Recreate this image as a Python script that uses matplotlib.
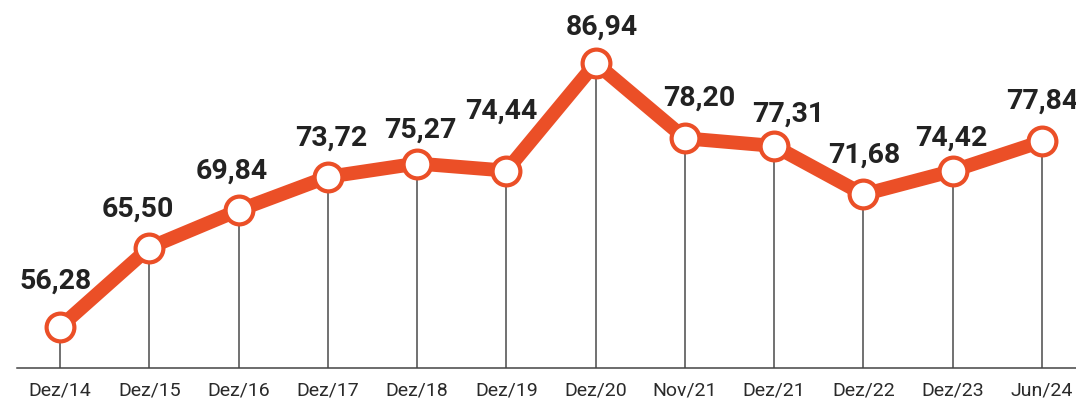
import matplotlib.pyplot as plt

# Dados do gráfico
periodos = ['Dez/14', 'Dez/15', 'Dez/16', 'Dez/17', 'Dez/18', 'Dez/19',
            'Dez/20', 'Nov/21', 'Dez/21', 'Dez/22', 'Dez/23', 'Jun/24']
valores = [56.28, 65.50, 69.84, 73.72, 75.27, 74.44,
           86.94, 78.20, 77.31, 71.68, 74.42, 77.84]

# Deslocamento dos rótulos (em pixels) em relação ao ponto
desloc_x = [-4, -11, -7, 3, 3, -5, 6, 14, 14, 1, -1, 0]
desloc_y = [-43, -35, -36, -36, -30, -56, -33, -37, -29, -36, -30, -37]

cor_linha = '#EB4F27'
cor_texto = '#222222'

fig = plt.figure(figsize=(10.76, 4.04), dpi=100)
ax = fig.add_axes([0, 36 / 404, 1, 368 / 404])

x = list(range(len(valores)))
y_base = 51.52

ax.vlines(x, y_base, valores, color='#4a4a4a', linewidth=1.1, zorder=1)
ax.plot(x, valores, '-o', color=cor_linha, linewidth=10,
        markersize=20, markerfacecolor='white', markeredgecolor=cor_linha,
        markeredgewidth=3, zorder=3, solid_joinstyle='round')

for xi, v, dx, dy in zip(x, valores, desloc_x, desloc_y):
    rotulo = f'{v:.2f}'.replace('.', ',')
    ax.annotate(rotulo, (xi, v), xytext=(dx * 0.72, -(dy - 3) * 0.72),
                textcoords='offset points', ha='center', va='center',
                fontsize=20.5, fontweight='bold', family='Roboto', color=cor_texto)

ax.set_xlim(-60 / 89.27, 11 + 34 / 89.27)
ax.set_ylim(y_base, 94.26)

ax.set_xticks(x)
ax.set_xticklabels(periodos, fontsize=14, family='Roboto', color='#2a2a2a')
ax.tick_params(axis='x', length=0, pad=9.5)
ax.set_yticks([])

for lado in ['top', 'right', 'left']:
    ax.spines[lado].set_visible(False)
ax.spines['bottom'].set_bounds(-0.48, 11 + 34 / 89.27)
ax.spines['bottom'].set_color('#444444')
ax.spines['bottom'].set_linewidth(1.1)

fig.savefig('out.png', dpi=100)
